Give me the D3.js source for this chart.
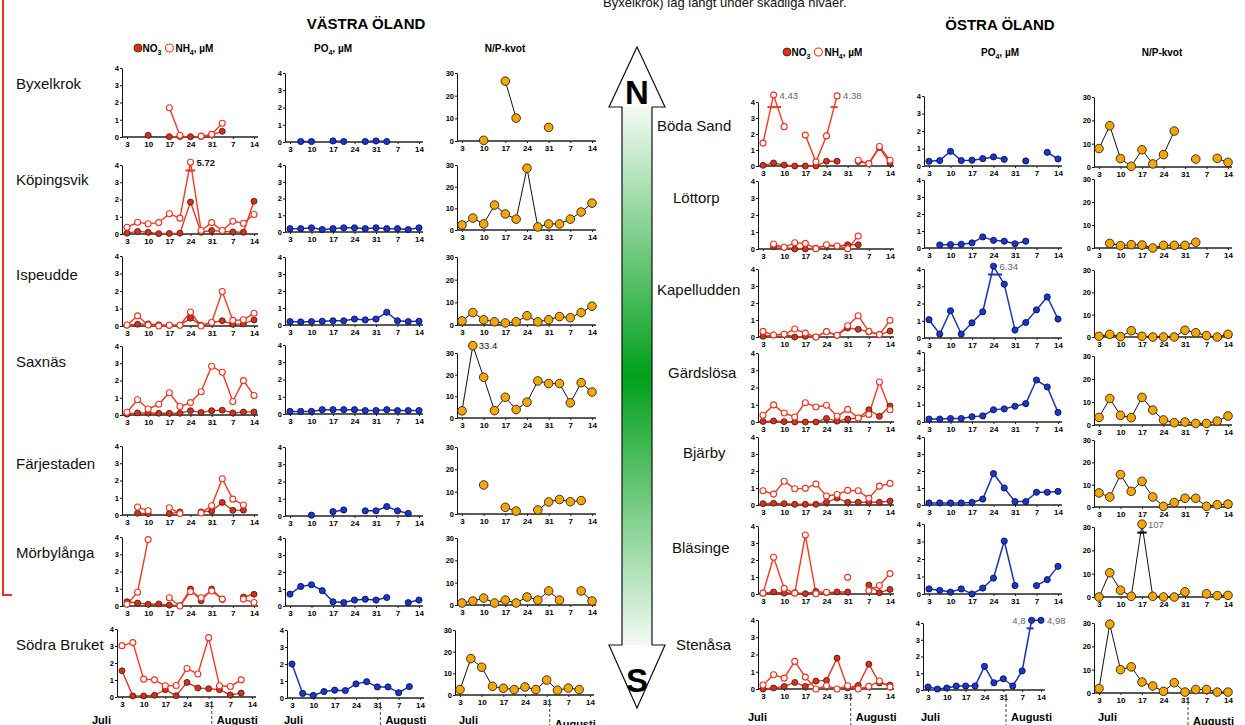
<!DOCTYPE html>
<html><head><meta charset="utf-8">
<script src="https://cdn.jsdelivr.net/npm/d3@7"></script>
<style>
body{margin:0;background:#fff;}
svg{display:block;}
</style></head><body>
<script>
// sampling days, counted from 3 July
var days = [0,3.5,7,10.5,14,17.5,21,24.5,28,31.5,35,38.5,42];
var tickDays = [0,7,14,21,28,35,42];
var tickLabels = ["3","10","17","24","31","7","14"];
var westSites = ["Byxelkrok","Köpingsvik","Ispeudde","Saxnäs","Färjestaden","Mörbylånga","Södra Bruket"];
var eastSites = ["Böda Sand","Löttorp","Kapelludden","Gärdslösa","Bjärby","Bläsinge","Stenåsa"];
var _ = null;

var westNO3 = [
  [_,_,0.1,_,0.02,0.03,0.02,0.03,0.12,0.33,_,_,_],
  [0.05,0.15,0.1,0.02,0.03,0.05,1.85,0.1,0.2,0.15,0.12,0.1,1.9],
  [0.05,0.1,0.12,0.07,0.04,0.04,0.45,0.05,0.2,0.3,0.1,0.12,0.35],
  [0.05,0.12,0.12,0.1,0.1,0.1,0.25,0.15,0.25,0.28,0.12,0.17,0.18],
  [_,0.1,0.08,_,0.08,0.18,_,0.18,0.22,0.73,0.27,0.28,_],
  [0.25,0.17,0.1,0.12,0.05,0.02,0.98,0.3,0.98,0.38,_,0.52,0.68],
  [1.54,0.06,0.06,0.1,0.43,0.08,0.86,0.53,0.49,0.43,0.12,0.23,_]
];
var westNH4 = [
  [_,_,_,_,1.7,0.1,_,0.05,0.15,0.8,_,_,_],
  [0.39,0.68,0.59,0.66,1.17,0.92,5.72,0.2,0.66,0.2,0.74,0.62,1.13],
  [0.06,0.58,0.06,0,0.04,0.04,0.8,0,0.2,1.97,0.32,0.36,0.73],
  [0.16,0.88,0.35,0.62,1.29,0.49,0.72,1.35,2.83,2.48,0.78,1.99,1.13],
  [_,0.46,0.25,_,0.42,0.08,_,0.12,0.54,2.1,0.92,0.58,_],
  [0.1,0.8,3.85,_,0.48,0,0.83,0.48,0.87,0.4,_,0.4,0.2],
  [3.02,3.2,1.05,1.01,0.66,0.68,1.68,1.35,3.49,0.66,0.62,1.01,_]
];
var westPO4 = [
  [_,0.03,0.03,_,0.06,0.03,_,0.03,0.06,0.03,_,_,_],
  [0.2,0.2,0.25,0.15,0.2,0.25,0.25,0.2,0.25,0.2,0.2,0.15,0.25],
  [0.2,0.18,0.2,0.22,0.25,0.25,0.35,0.3,0.35,0.75,0.25,0.2,0.22],
  [0.15,0.15,0.15,0.25,0.25,0.25,0.25,0.2,0.2,0.25,0.2,0.2,0.2],
  [_,_,0.05,_,0.25,0.35,_,0.3,0.3,0.55,0.3,0.15,_],
  [0.7,1.15,1.25,0.9,0.25,0.2,0.35,0.4,0.35,0.5,_,0.2,0.35],
  [2.0,0.27,0.15,0.38,0.46,0.44,0.83,0.96,0.65,0.65,0.31,0.67,_]
];
var westNP = [
  [_,_,0.3,_,26.4,10.1,_,_,6,_,_,_,_],
  [2.3,5.5,2.8,11.5,7.4,5,28.5,1.4,2.8,2.8,5,8.3,12.4],
  [1.8,5.5,2.3,1.4,0.9,1.4,4.1,1.4,2.3,3.7,3.2,5.5,8.3],
  [3.3,33.4,18.8,3.4,9.6,3.9,7.3,17.1,15.9,15.9,7,16.3,12],
  [_,_,13,_,3,1.3,_,1.8,5.4,6.5,5.5,6,_],
  [0.9,1.8,3.1,0.9,2.2,0.9,3.6,2.2,6.3,2.2,_,6.3,1.8],
  [2.5,16.8,12.8,4,3.1,2.5,3.7,2.5,6.9,2.2,3.2,2.5,_]
];

var eastNO3 = [
  [0.04,0.19,0.06,0,0,0,0.3,0.3,_,0.28,0.15,1.15,0.18],
  [_,0.14,0.1,0,0,0.05,0.2,0.15,0.25,0.25,_,_,_],
  [0.04,0.12,0.16,0,0.04,0,0.33,0.1,0.53,0.45,0.31,0.14,0.35],
  [0.03,0.06,0.02,0,0,0,0.21,0.05,0.17,0.23,0.71,0.33,0.93],
  [0.08,0.1,0.08,0.04,0.04,0.04,0.16,0.41,0.16,0.16,0.16,0.16,0.23],
  [0.05,0.12,0.05,0.08,0.02,0.15,0.08,0.12,0.12,_,0.53,0.08,0.27],
  [0,0.06,0.15,0.38,0.15,0.46,0.5,1.79,0.06,0.21,1.44,0.35,0.23]
];
var eastNH4 = [
  [1.43,4.43,2.46,_,1.93,0.26,1.88,4.38,_,0.36,0.15,1.22,0.36],
  [_,0.29,0.1,0.37,0.33,0.02,0.25,0.18,0.02,0.76,_,_,_],
  [0.33,0.12,0.16,0.47,0.23,0,0.31,0.1,0.66,1.25,0.33,0.14,0.98],
  [0.39,0.99,0.52,0.29,1.12,0.87,0.97,0.33,0.73,0.23,0.44,2.32,0.71],
  [0.84,0.64,1.4,0.96,0.98,1.23,0.53,0.62,0.86,0.84,0.39,1.11,1.27],
  [0.05,2.16,0.33,0.05,3.47,0.02,0.1,_,0.98,_,0.2,0.5,1.2],
  [0.23,0.83,0.63,1.6,0.69,0,0.19,0,0.19,0,0.15,0.46,0.12]
];
var eastPO4 = [
  [0.27,0.31,0.84,0.31,0.33,0.42,0.52,0.38,_,0.29,_,0.78,0.4],
  [_,0.18,0.2,0.22,0.3,0.65,0.45,0.4,0.25,0.4,_,_,_],
  [1.06,0.23,1.58,0.23,0.88,1.52,6.34,3.12,0.46,0.9,1.63,2.38,1.1],
  [0.17,0.17,0.2,0.2,0.3,0.35,0.7,0.75,0.9,1.05,2.4,2.0,0.55],
  [0.12,0.12,0.12,0.12,0.15,0.35,1.85,1.0,0.2,0.2,0.75,0.75,0.8],
  [0.29,0.21,0.11,0.29,0,0.34,0.91,3.03,0.48,_,0.48,0.82,1.58],
  [0.18,0.06,0.12,0.24,0.24,0.24,1.41,0.43,0.67,0.24,1.14,4.8,4.98]
];
var eastNP = [
  [7.9,17.7,3.6,0.3,7.4,1.3,5.3,15.4,_,3.4,_,3.7,2],
  [_,2,1,1.45,1.3,0,1.16,1.16,1.16,2.5,_,_,_],
  [0.3,1.2,0.15,2.8,0.3,0,0,0,3,1.9,0.6,0,1.2],
  [3.3,11.5,4.2,3.2,12,6.5,2.2,1,1.3,0.7,0.7,1.7,3.9],
  [6.3,4.5,14.5,7,11.5,4.5,0.3,2,3.9,3.9,0.3,1,1.3],
  [0,10.4,2.9,0.3,107,0.3,0,0,2.2,_,1.4,0.6,0.7],
  [1.9,29.5,10,11.2,4.7,3,0.7,4.4,0.4,1.5,1.5,0.4,0.4]
];

// values written next to points that go off the scale
var notes = [
  {side:"w",row:1,col:0,s:"nh4",i:6,text:"5.72",brk:true,bold:true},
  {side:"w",row:3,col:2,s:"np",i:1,text:"33.4",brk:false,dark:true},
  {side:"e",row:0,col:0,s:"nh4",i:1,text:"4.43",brk:true},
  {side:"e",row:0,col:0,s:"nh4",i:7,text:"4.38",brk:true},
  {side:"e",row:2,col:1,s:"po4",i:6,text:"6.34",brk:true},
  {side:"e",row:5,col:2,s:"np",i:4,text:"107",brk:true},
  {side:"e",row:6,col:1,s:"po4",i:11,text:"4,8",brk:true,left:true},
  {side:"e",row:6,col:1,s:"po4",i:12,text:"4,98",brk:true}
];

var data = {
  w:{no3:westNO3, nh4:westNH4, po4:westPO4, np:westNP},
  e:{no3:eastNO3, nh4:eastNH4, po4:eastPO4, np:eastNP}
};

// ---- layout ----
var FONT = '"Liberation Sans", Arial, Helvetica, sans-serif';
var colX = {w:[[127,254],[290,419],[462,592]], e:[[763,890],[929,1058],[1099,1228]]};
var rowTop = {
  w:[[68,165,256,346,446,537,629],[73,165,257,345,447,538,630],[73,165,257,353,447,538,630]],
  e:[[102,181,269,353,437,526,620],[96,180,269,352,437,524,623],[97,179,270,356,440,527,623]]
};
var rowBase = {
  w:[[137,234,326,415,515,606,697],[142,232,325,414,516,606,698],[141,230,325,418,514,605,695]],
  e:[[166,249,337,422,505,594,689],[166,248,338,422,505,594,690],[167,248,337,425,507,597,693]]
};
var xOverride = {"w6-0":[122,252],"w6-1":[292,420],"w6-2":[460,590],"e6-1":[928,1041]};
var juliX = {w:[92,284,459], e:[748,921,1098]};

var svg = d3.select("body").append("svg")
  .attr("width",1245).attr("height",725)
  .style("font-family",FONT);

// red frame edge on the left
svg.append("path").attr("d","M3,0V595H12")
  .attr("fill","none").attr("stroke","#e8341c").attr("stroke-width",2);

// cut-off text at the top
svg.append("text").attr("x",603).attr("y",7).attr("font-size",13).attr("fill","#111")
  .text("Byxelkrok) låg långt under skadliga nivåer.");

// titles
svg.append("text").attr("x",366).attr("y",29).attr("text-anchor","middle")
  .attr("font-size",15).attr("font-weight","bold").text("VÄSTRA ÖLAND");
svg.append("text").attr("x",1000).attr("y",30).attr("text-anchor","middle")
  .attr("font-size",15).attr("font-weight","bold").text("ÖSTRA ÖLAND");

function chemHeader(x0, yb) {
  var g = svg.append("g").attr("font-size",10).attr("font-weight","bold");
  g.append("circle").attr("cx",x0+4).attr("cy",yb-4).attr("r",4)
    .attr("fill","#d9301c").attr("stroke","#3a1a10").attr("stroke-width",0.8);
  var t1 = g.append("text").attr("x",x0+8.5).attr("y",yb);
  t1.append("tspan").text("NO");
  t1.append("tspan").attr("font-size",7).attr("dy",2.5).text("3");
  var w1 = t1.node().getComputedTextLength();
  var cx2 = x0 + 8.5 + w1 + 8;
  g.append("circle").attr("cx",cx2).attr("cy",yb-4).attr("r",4)
    .attr("fill","#fff").attr("stroke","#ee3322").attr("stroke-width",1.1);
  var t2 = g.append("text").attr("x",cx2+6).attr("y",yb);
  t2.append("tspan").text("NH");
  t2.append("tspan").attr("font-size",7).attr("dy",2.5).text("4");
  t2.append("tspan").attr("dy",-2.5).text(", µM");
}
function po4Header(cx, yb) {
  var t = svg.append("text").attr("x",cx).attr("y",yb).attr("text-anchor","middle")
    .attr("font-size",10).attr("font-weight","bold");
  t.append("tspan").text("PO");
  t.append("tspan").attr("font-size",7).attr("dy",2.5).text("4");
  t.append("tspan").attr("dy",-2.5).text(", µM");
}
function npHeader(cx, yb) {
  svg.append("text").attr("x",cx).attr("y",yb).attr("text-anchor","middle")
    .attr("font-size",10).attr("font-weight","bold").text("N/P-kvot");
}
chemHeader(134,52); po4Header(333,52); npHeader(505,52);
chemHeader(783,56); po4Header(1000,56); npHeader(1162,56);

// row labels
var westLabelPos = [[16,89],[16,185],[16,280],[16,367],[16,469],[16,558],[16,650]];
var eastLabelPos = [[657,131],[673,203],[657,295],[668,378],[683,458],[672,553],[676,650]];
westSites.forEach(function(s,i){
  svg.append("text").attr("x",westLabelPos[i][0]).attr("y",westLabelPos[i][1])
    .attr("font-size",15).attr("fill","#111").text(s);
});

// N-S arrow
var defs = svg.append("defs");
var grad = defs.append("linearGradient").attr("id","shaft")
  .attr("x1",0).attr("y1",0).attr("x2",0).attr("y2",1);
grad.append("stop").attr("offset","0%").attr("stop-color","#f4faf4");
grad.append("stop").attr("offset","50%").attr("stop-color","#00a01a");
grad.append("stop").attr("offset","100%").attr("stop-color","#f4faf4");
var arrowPts = "M637,47L665,107L652,107L652,645L665,645L637,708L609,645L622,645L622,107L609,107Z";
svg.append("path").attr("d",arrowPts).attr("fill","#fff");
svg.append("rect").attr("x",622).attr("y",107).attr("width",30).attr("height",538).attr("fill","url(#shaft)");
svg.append("path").attr("d",arrowPts).attr("fill","none").attr("stroke","#111").attr("stroke-width",1.2);
svg.append("text").attr("x",637).attr("y",104).attr("text-anchor","middle")
  .attr("font-size",33).attr("font-weight","bold").text("N");
svg.append("text").attr("x",637).attr("y",692).attr("text-anchor","middle")
  .attr("font-size",33).attr("font-weight","bold").text("S");

eastSites.forEach(function(s,i){
  svg.append("text").attr("x",eastLabelPos[i][0]).attr("y",eastLabelPos[i][1])
    .attr("font-size",15).attr("fill","#111").text(s);
});

var styles = {
  no3:{line:"#e8341c", lw:1.4, r:3, fill:"#d9301c", stroke:"#3a1a10", sw:0.8},
  nh4:{line:"#f03a22", lw:1.4, r:3, fill:"#fff", stroke:"#ee3322", sw:1.1},
  po4:{line:"#1a33b0", lw:1.5, r:3.1, fill:"#1836d0", stroke:"#0a0a30", sw:0.8},
  np:{line:"#111", lw:1, r:4.3, fill:"#f7a600", stroke:"#222", sw:0.9}
};

function drawPanel(side, row, col) {
  var key = side + row + "-" + col;
  var xr = xOverride[key] || colX[side][col];
  var top = rowTop[side][col][row], base = rowBase[side][col][row];
  var max = col == 2 ? 30 : 4;
  var x = d3.scaleLinear().domain([0,42]).range(xr);
  var y = d3.scaleLinear().domain([0,max]).range([base, top]);
  var ax = xr[0] - 5;
  var g = svg.append("g");

  var yAxis = g.append("g").attr("transform","translate(" + ax + ",0)")
    .call(d3.axisLeft(y).tickValues(col == 2 ? [0,10,20,30] : [0,1,2,3,4])
      .tickFormat(d3.format("d"))
      .tickSize(2).tickSizeOuter(0).tickPadding(1));
  yAxis.attr("font-family",FONT).attr("font-size",7.5).attr("font-weight","bold");
  yAxis.selectAll("line,path").attr("stroke","#111");

  var xAxis = g.append("g").attr("transform","translate(0," + base + ")")
    .call(d3.axisBottom(x).tickValues(tickDays)
      .tickFormat(function(d,i){ return tickLabels[i]; })
      .tickSize(2).tickPadding(2));
  xAxis.select(".domain").remove();
  xAxis.attr("font-family",FONT).attr("font-size",8).attr("font-weight","bold");
  xAxis.selectAll("line").attr("stroke","#222");
  g.append("line").attr("x1",ax).attr("x2",xr[1] + 4).attr("y1",base).attr("y2",base)
    .attr("stroke","#222").attr("stroke-width",1.6);

  function disp(v) { return v > max * 1.12 ? max * 1.04 : v; }
  var series = col == 0 ? ["no3","nh4"] : (col == 1 ? ["po4"] : ["np"]);

  series.forEach(function(s) {
    var vals = data[side][s][row];
    var st = styles[s];
    var line = d3.line()
      .defined(function(d){ return d != null; })
      .x(function(d,i){ return x(days[i]); })
      .y(function(d){ return y(disp(d)); });
    g.append("path").datum(vals).attr("d",line)
      .attr("fill","none").attr("stroke",st.line).attr("stroke-width",st.lw);

    // break marks and labels for off-scale points
    notes.filter(function(n){ return n.side == side && n.row == row && n.col == col && n.s == s; })
      .forEach(function(n) {
        var v = disp(vals[n.i]);
        var lvl = max * 0.92;
        if (n.brk) {
          [n.i - 1, n.i + 1].forEach(function(j) {
            if (j < 0 || j >= vals.length || vals[j] == null) return;
            var vj = disp(vals[j]);
            if (vj >= lvl) return;
            var t = (lvl - vj) / (v - vj);
            var px = x(days[j]) + t * (x(days[n.i]) - x(days[j]));
            g.append("line").attr("x1",px - 3.5).attr("x2",px + 3.5)
              .attr("y1",y(lvl)).attr("y2",y(lvl))
              .attr("stroke",st.line).attr("stroke-width",2);
          });
        }
        g.append("text")
          .attr("x", x(days[n.i]) + (n.left ? -6 : 6))
          .attr("y", y(v) + 3.5)
          .attr("text-anchor", n.left ? "end" : "start")
          .attr("font-size", 9.5)
          .attr("font-weight", n.bold ? "bold" : "normal")
          .attr("fill", (n.bold || n.dark) ? "#111" : "#666")
          .text(n.text);
      });
  });

  series.forEach(function(s) {
    var vals = data[side][s][row];
    var st = styles[s];
    g.selectAll("circle." + s).data(vals.map(function(v,i){ return {v:v, i:i}; })
        .filter(function(d){ return d.v != null; }))
      .enter().append("circle").attr("class",s)
      .attr("cx",function(d){ return x(days[d.i]); })
      .attr("cy",function(d){ return y(disp(d.v)); })
      .attr("r",st.r)
      .attr("fill",st.fill).attr("stroke",st.stroke).attr("stroke-width",st.sw);
  });

  // month marks under the bottom row
  if (row == 6) {
    var mx = x(29);
    var jy = side == "w" ? 724 : 721;
    var ay = side == "w" ? (col == 2 ? 728 : 724) : (col == 2 ? 725 : 721);
    g.append("line").attr("x1",mx).attr("x2",mx).attr("y1",base + 4).attr("y2",725)
      .attr("stroke","#444").attr("stroke-dasharray","3,2");
    g.append("text").attr("x",juliX[side][col]).attr("y",jy)
      .attr("font-size",11).attr("font-weight","bold").text("Juli");
    g.append("text").attr("x",mx + 5).attr("y",ay)
      .attr("font-size",11).attr("font-weight","bold").text("Augusti");
  }
}

["w","e"].forEach(function(side){
  for (var r = 0; r < 7; r++) for (var c = 0; c < 3; c++) drawPanel(side, r, c);
});
</script>
</body></html>
